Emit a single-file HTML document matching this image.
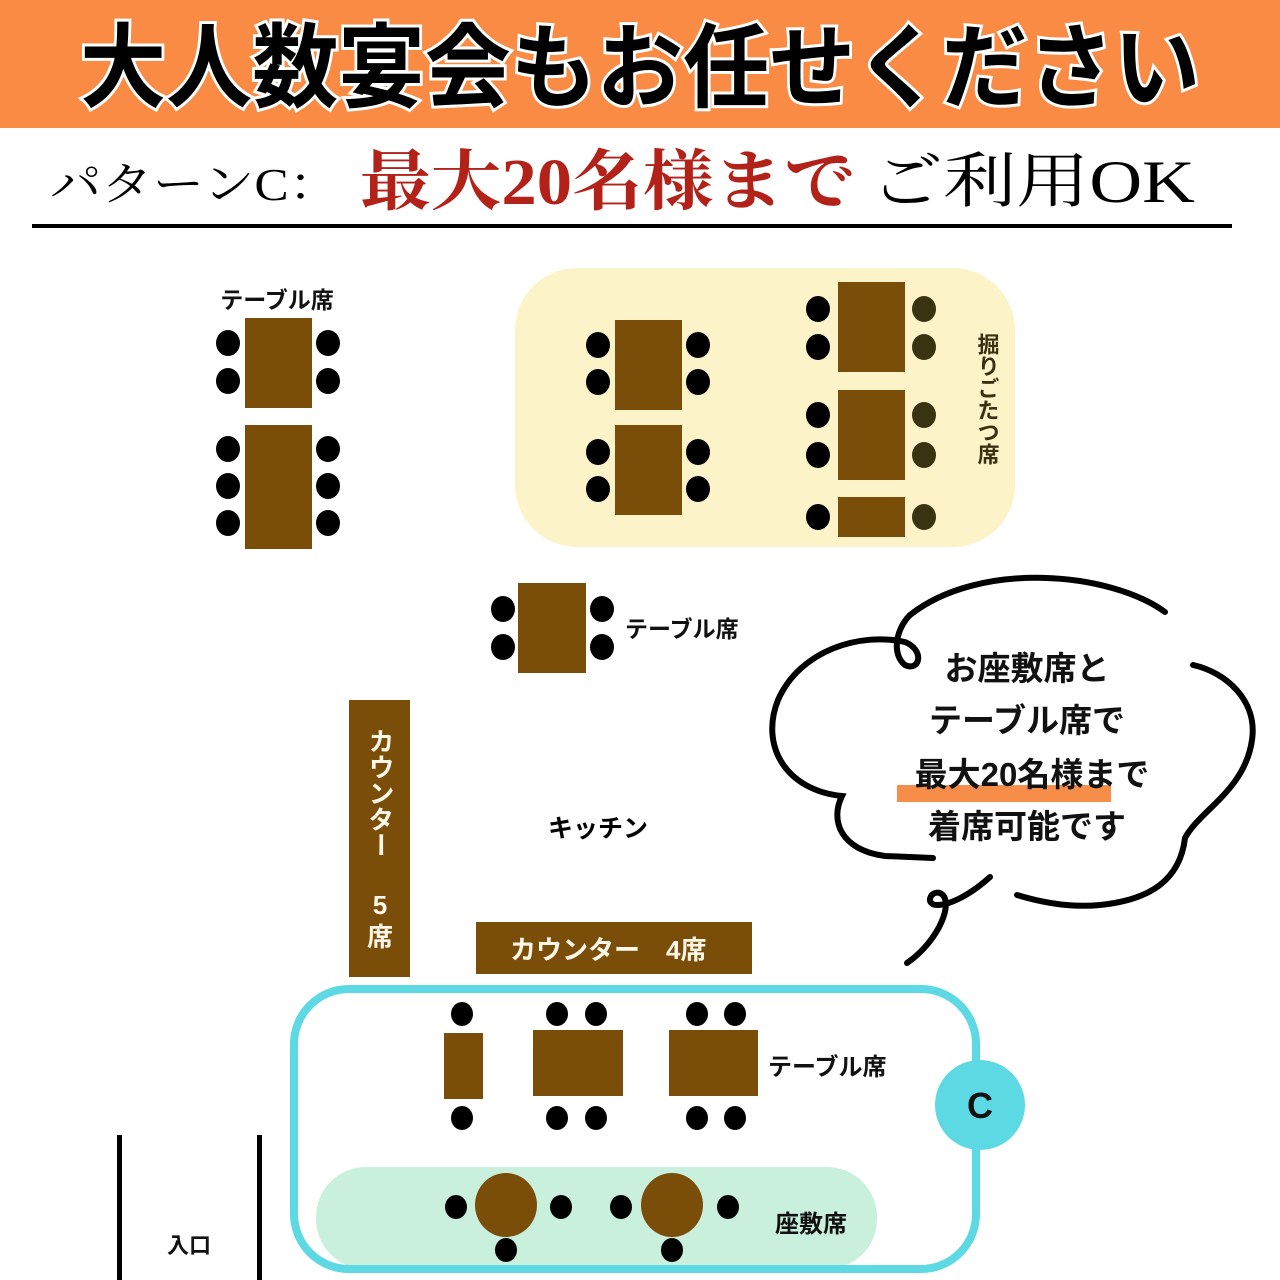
<!DOCTYPE html>
<html><head><meta charset="utf-8"><style>
html,body{margin:0;padding:0;background:#fff;width:1280px;height:1280px;overflow:hidden}
svg{display:block}
.s{font-family:"Liberation Sans","Noto Sans CJK JP",sans-serif;font-weight:700}
.r{font-family:"Liberation Serif","Noto Serif CJK SC",serif;font-weight:700}
</style></head><body>
<svg width="1280" height="1280" viewBox="0 0 1280 1280" xmlns="http://www.w3.org/2000/svg">
<rect x="0" y="0" width="1280" height="128" fill="#F98B45"/>
<text x="640" y="100" text-anchor="middle" class="s" font-size="92" font-weight="900" fill="#000" stroke="#fff" stroke-width="6" paint-order="stroke" textLength="1120" lengthAdjust="spacingAndGlyphs">大人数宴会もお任せください</text>
<text x="50" y="200" class="r" font-size="46" font-weight="400" fill="#000" style="font-weight:400" textLength="290" lengthAdjust="spacingAndGlyphs">パターンC：</text>
<text x="360" y="204" class="r" font-size="66" fill="#B22218" textLength="495" lengthAdjust="spacingAndGlyphs">最大20名様まで</text>
<text x="870" y="202" class="r" font-size="60" fill="#000" style="font-weight:400" textLength="325" lengthAdjust="spacingAndGlyphs">ご利用OK</text>
<rect x="32" y="224" width="1200" height="4" fill="#000"/>

<text x="277" y="308" text-anchor="middle" class="s" font-size="23" fill="#111">テーブル席</text>
<g fill="#7A4D08"><rect x="245" y="318" width="67" height="90"/><rect x="245" y="425" width="67" height="124"/></g>
<g fill="#000">
<ellipse cx="228" cy="343" rx="12" ry="13"/><ellipse cx="328" cy="343" rx="12" ry="13"/>
<ellipse cx="228" cy="381" rx="12" ry="13"/><ellipse cx="328" cy="381" rx="12" ry="13"/>
<ellipse cx="228" cy="449" rx="12" ry="13"/><ellipse cx="328" cy="449" rx="12" ry="13"/>
<ellipse cx="228" cy="486" rx="12" ry="13"/><ellipse cx="328" cy="486" rx="12" ry="13"/>
<ellipse cx="228" cy="523" rx="12" ry="13"/><ellipse cx="328" cy="523" rx="12" ry="13"/>
</g>

<rect x="515" y="268" width="500" height="279" rx="62" fill="#FCF3C9"/>
<g fill="#7A4D08">
<rect x="615" y="320" width="67" height="90"/><rect x="615" y="425" width="67" height="90"/>
<rect x="838" y="282" width="67" height="90"/><rect x="838" y="390" width="67" height="90"/><rect x="838" y="497" width="67" height="40"/>
</g>
<g fill="#000">
<ellipse cx="598" cy="345" rx="12" ry="13"/><ellipse cx="698" cy="345" rx="12" ry="13"/>
<ellipse cx="598" cy="382" rx="12" ry="13"/><ellipse cx="698" cy="382" rx="12" ry="13"/>
<ellipse cx="598" cy="452" rx="12" ry="13"/><ellipse cx="698" cy="452" rx="12" ry="13"/>
<ellipse cx="598" cy="489" rx="12" ry="13"/><ellipse cx="698" cy="489" rx="12" ry="13"/>
<ellipse cx="818" cy="309" rx="12" ry="13"/><ellipse cx="818" cy="347" rx="12" ry="13"/>
<ellipse cx="818" cy="415" rx="12" ry="13"/><ellipse cx="818" cy="455" rx="12" ry="13"/>
<ellipse cx="818" cy="517" rx="12" ry="13"/>
</g>
<g fill="#3A3312">
<ellipse cx="924" cy="309" rx="12" ry="13"/><ellipse cx="924" cy="347" rx="12" ry="13"/>
<ellipse cx="924" cy="415" rx="12" ry="13"/><ellipse cx="924" cy="455" rx="12" ry="13"/>
<ellipse cx="924" cy="517" rx="12" ry="13"/>
</g>
<text class="s" font-size="22" fill="#3A3010" x="987" y="333" style="writing-mode:vertical-rl">掘りごたつ席</text>

<rect x="518" y="583" width="68" height="90" fill="#7A4D08"/>
<g fill="#000">
<ellipse cx="503" cy="609" rx="12" ry="13"/><ellipse cx="602" cy="609" rx="12" ry="13"/>
<ellipse cx="503" cy="647" rx="12" ry="13"/><ellipse cx="602" cy="647" rx="12" ry="13"/>
</g>
<text x="625" y="637" class="s" font-size="23" fill="#111">テーブル席</text>

<rect x="349" y="700" width="61" height="277" fill="#7A4D08"/>
<text class="s" font-size="26" fill="#FFF8E8" x="380" y="728" style="writing-mode:vertical-rl">カウンター</text>
<text class="s" font-size="26" fill="#FFF8E8" x="380" y="914" text-anchor="middle">5</text>
<text class="s" font-size="26" fill="#FFF8E8" x="380" y="946" text-anchor="middle">席</text>
<rect x="476" y="922" width="276" height="52" fill="#7A4D08"/>
<text x="510" y="959" class="s" font-size="26" fill="#FFF8E8">カウンター　4席</text>
<text x="598" y="837" text-anchor="middle" class="s" font-size="25" fill="#000">キッチン</text>

<g fill="none" stroke="#000" stroke-width="6" stroke-linecap="round">
<path d="M1165,612 C1110,572 980,560 910,615 C895,630 892,655 905,665 C920,672 925,650 905,642 C860,632 800,650 778,700 C760,745 785,790 842,796 C830,820 840,850 885,856 L933,858"/>
<path d="M1193,665 C1225,672 1258,700 1252,740 C1245,790 1200,810 1185,838 C1180,880 1150,900 1100,905 C1070,908 1040,902 1017,895"/>
<path d="M990,877 C970,895 950,905 937,905 C925,905 930,890 940,893 C955,900 940,940 907,963"/>
</g>
<rect x="897" y="785" width="214" height="17" fill="#F5873F" opacity="0.95"/>
<g class="s" font-size="33" fill="#111" text-anchor="middle">
<text x="1027" y="680">お座敷席と</text>
<text x="1027" y="732">テーブル席で</text>
<text x="1032" y="786">最大20名様まで</text>
<text x="1027" y="838">着席可能です</text>
</g>

<rect x="316" y="1167" width="561" height="102" rx="50" fill="#C9F0DC"/>
<rect x="294" y="989" width="682" height="280" rx="55" fill="none" stroke="#5DD9E3" stroke-width="8"/>
<circle cx="980" cy="1105" r="45" fill="#5DD9E3"/>
<text x="980" y="1118" text-anchor="middle" class="s" font-size="36" fill="#111">C</text>
<g fill="#7A4D08">
<rect x="444" y="1033" width="39" height="66"/>
<rect x="533" y="1030" width="90" height="66"/>
<rect x="669" y="1030" width="89" height="66"/>
<ellipse cx="506" cy="1205" rx="31" ry="32"/>
<ellipse cx="672" cy="1205" rx="31" ry="32"/>
</g>
<g fill="#000">
<ellipse cx="462" cy="1014" rx="11" ry="12"/><ellipse cx="462" cy="1118" rx="11" ry="12"/>
<ellipse cx="557" cy="1014" rx="11" ry="12"/><ellipse cx="596" cy="1014" rx="11" ry="12"/>
<ellipse cx="557" cy="1118" rx="11" ry="12"/><ellipse cx="596" cy="1118" rx="11" ry="12"/>
<ellipse cx="697" cy="1014" rx="11" ry="12"/><ellipse cx="735" cy="1014" rx="11" ry="12"/>
<ellipse cx="697" cy="1118" rx="11" ry="12"/><ellipse cx="735" cy="1118" rx="11" ry="12"/>
<ellipse cx="456" cy="1207" rx="11" ry="12"/><ellipse cx="561" cy="1207" rx="11" ry="12"/><ellipse cx="506" cy="1250" rx="11" ry="12"/>
<ellipse cx="621" cy="1207" rx="11" ry="12"/><ellipse cx="728" cy="1207" rx="11" ry="12"/><ellipse cx="672" cy="1250" rx="11" ry="12"/>
</g>
<text x="768" y="1075" class="s" font-size="24" fill="#111">テーブル席</text>
<text x="775" y="1232" class="s" font-size="24" fill="#111">座敷席</text>

<rect x="117" y="1135" width="5" height="145" fill="#000"/>
<rect x="257" y="1135" width="5" height="145" fill="#000"/>
<text x="189" y="1253" text-anchor="middle" class="s" font-size="22" fill="#111">入口</text>
</svg>
</body></html>
